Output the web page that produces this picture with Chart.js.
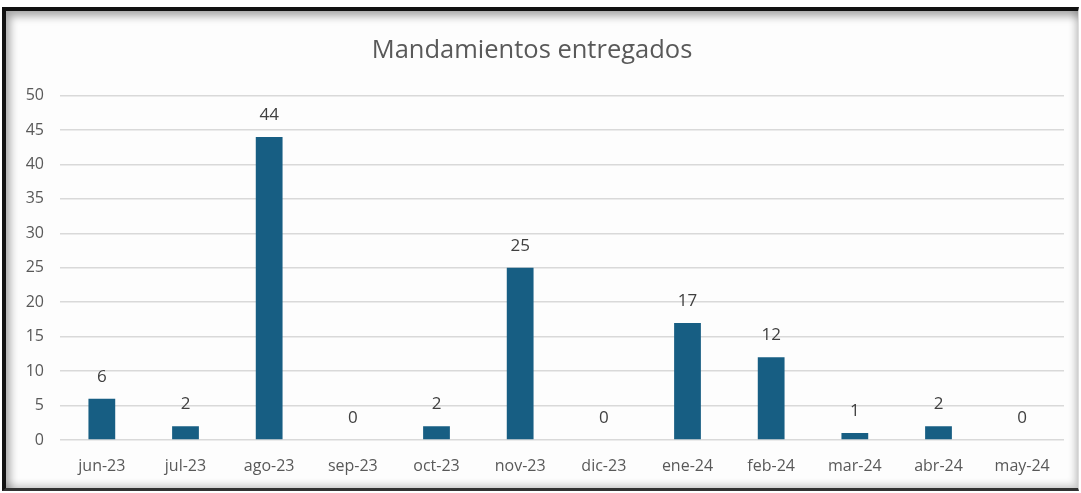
<!DOCTYPE html>
<html>
<head>
<meta charset="utf-8">
<script src="https://cdn.jsdelivr.net/npm/chart.js@4"></script>
<style>
  html, body { margin: 0; padding: 0; background: #fff; }
  body { width: 1081px; height: 493px; position: relative; overflow: hidden; }
  #frame {
    position: absolute; left: 2px; top: 7px; width: 1077px; height: 484px;
    border-top: 4px solid #111; border-left: 4px solid #111; border-bottom: 3px solid #333;
    border-right: 1px solid #ddd;
    box-shadow: inset 4px 5px 8px rgba(0,0,0,0.35), inset -4px -4px 6px rgba(0,0,0,0.15);
    background: #fdfdfd;
    box-sizing: border-box;
  }
  #wrap { position: absolute; left: 0; top: 0; width: 1081px; height: 493px; }
</style>
</head>
<body>
<div id="frame"></div>
<div id="wrap"><canvas id="myChart" width="1081" height="493"></canvas></div>
<script>
// datos
const meses = ['jun-23', 'jul-23', 'ago-23', 'sep-23', 'oct-23', 'nov-23', 'dic-23', 'ene-24', 'feb-24', 'mar-24', 'abr-24', 'may-24'];
const mandamientos = [6, 2, 44, 0, 2, 25, 0, 17, 12, 1, 2, 0];
const ejeY = { min: 0, max: 50, step: 5 };

// etiquetas de valor encima de cada barra
const valueLabels = {
  id: 'valueLabels',
  afterDatasetsDraw(chart) {
    const ctx = chart.ctx;
    const meta = chart.getDatasetMeta(0);
    ctx.save();
    ctx.font = '17px "Open Sans", sans-serif';
    ctx.fillStyle = '#404040';
    ctx.textAlign = 'center';
    ctx.textBaseline = 'middle';
    meta.data.forEach((bar, i) => {
      ctx.fillText(String(mandamientos[i]), bar.x, bar.y - 22);
    });
    ctx.restore();
  },
};

const config = {
  type: 'bar',
  data: {
    labels: meses,
    datasets: [
      {
        label: 'Mandamientos',
        data: mandamientos,
        backgroundColor: '#175E83',
        borderWidth: 0,
        categoryPercentage: 1,
        barPercentage: 0.32,
      },
    ],
  },
  options: {
    responsive: false,
    animation: false,
    layout: { padding: { left: 0, right: 17, top: 0, bottom: 0 } },
    plugins: {
      legend: { display: false },
      tooltip: { enabled: false },
      title: {
        display: true,
        text: 'Mandamientos entregados',
        color: '#595959',
        font: { family: '"Open Sans", sans-serif', size: 25.5, weight: 'normal' },
        padding: { top: 35, bottom: 30 },
      },
    },
    scales: {
      x: {
        afterFit: (scale) => { scale.height = 53; },
        grid: { display: false, drawTicks: false },
        border: { display: false },
        ticks: {
          color: '#595959',
          font: { family: '"Open Sans", sans-serif', size: 16 },
          padding: 17,
          maxRotation: 0,
        },
      },
      y: {
        min: ejeY.min,
        max: ejeY.max,
        afterFit: (scale) => { scale.width = 60; },
        grid: { color: '#d9d9d9', lineWidth: 1.5, drawTicks: false },
        border: { display: false },
        ticks: {
          stepSize: ejeY.step,
          color: '#595959',
          font: { family: '"Open Sans", sans-serif', size: 16 },
          padding: 16,
        },
      },
    },
  },
  plugins: [valueLabels],
};

const barChart = new Chart(document.getElementById('myChart'), config);
</script>
</body>
</html>
